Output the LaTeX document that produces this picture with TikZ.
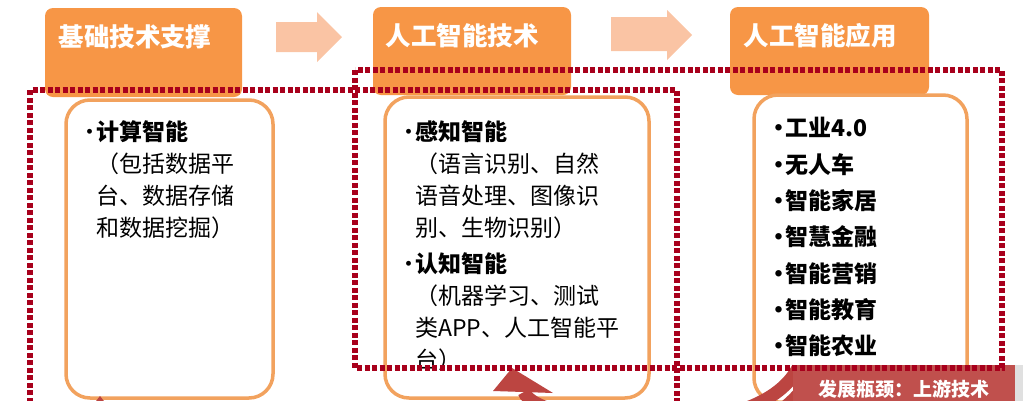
\documentclass[tikz,border=0pt]{standalone}
\usepackage{fontspec}
\setmainfont{Noto Sans CJK SC}
\usepackage{tikz}
\usetikzlibrary{arrows,positioning,shadows}
\definecolor{headorange}{HTML}{F79646}
\definecolor{flowpeach}{HTML}{FAC4A4}
\definecolor{boxline}{HTML}{F2A25E}
\definecolor{dotred}{HTML}{A8001C}
\definecolor{neckred}{HTML}{C0504D}
\definecolor{arrowred}{HTML}{BC4541}
\newcommand{\bul}{\llap{•\hspace{-5pt}}}

\begin{document}
\begin{tikzpicture}[
    x=1pt, y=-1pt,
    font=\fontsize{23}{32}\selectfont,
    head/.style={
		rectangle,
		rounded corners=8pt,
		fill=headorange,
		inner sep=0pt
	},
	headtext/.style={
		text=white,
		inner sep=0pt,
		font=\fontsize{25.5}{30}\selectfont\bfseries
	},
	item/.style={
		rectangle,
		rounded corners=24pt,
		draw=boxline,
		line width=3.5pt,
		fill=white,
		inner sep=0pt
	},
	itemtext/.style={
		align=left,
		inner sep=0pt
	},
	zone/.style={
		draw=dotred,
		line width=5.5pt,
		dash pattern=on 5pt off 2.5pt
	},
	flow/.style={
		fill=flowpeach
	},
	upstream/.style={
		draw=arrowred,
		line width=13pt
	},
	neck/.style={
		rectangle,
		fill=neckred,
		text=white,
		inner sep=0pt,
		font=\fontsize{19}{22}\selectfont\bfseries,
		drop shadow={shadow xshift=8pt, shadow yshift=0pt, fill=black!30, opacity=0.4}
	}
  ]
  \useasboundingbox (0,0) rectangle (1034,400);
  \clip (0,0) rectangle (1034,400);

    % the three stage headers
  \node [head, minimum width=197pt, minimum height=89pt] (hd1) at (143.5,52.5) {};
  \node [head, minimum width=198pt, minimum height=88pt] (hd2) at (472,51) {};
  \node [head, minimum width=199pt, minimum height=88pt] (hd3) at (829.5,51) {};
  \node [headtext] (hd1t) at (135,37) {基础技术支撑};
  \node [headtext] (hd2t) at (462,36) {人工智能技术};
  \node [headtext] (hd3t) at (820,36) {人工智能应用};

  \fill [flow] (276,22) -- (317,22) -- (317,12) -- (342,37) -- (317,62) -- (317,52) -- (276,52) -- cycle;
  \fill [flow] (611,17) -- (667,17) -- (667,10) -- (692,35) -- (667,60) -- (667,51) -- (611,51) -- cycle;

    % content boxes
  \node [item, minimum width=207pt, minimum height=298pt] (bx1) at (169.5,249) {};
  \node [item, minimum width=264pt, minimum height=301pt] (bx2) at (517,247.5) {};
  \node [item, minimum width=213pt, minimum height=307pt] (bx3) at (860.5,248.5) {};

  \node [itemtext, below right=22pt and 32pt of bx1.north west] (bx1t)
 {\bul\textbf{计算智能}\\
  （包括数据平\\
  台、数据存储\\
  和数据挖掘）};

  \node [itemtext, below right=25pt and 32pt of bx2.north west] (bx2t)
 {\bul\textbf{感知智能}\\
  （语言识别、自然\\
  语音处理、图像识\\
  别、生物识别）\\[4pt]
  \bul\textbf{认知智能}\\
  （机器学习、测试\\
  类APP、人工智能平\\
  台）};

  \node [itemtext, font=\fontsize{23}{36.3}\selectfont\bfseries, below right=24pt and 33pt of bx3.north west] (bx3t)
 {\bul 工业4.0\\
  \bul 无人车\\
  \bul 智能家居\\
  \bul 智慧金融\\
  \bul 智能营销\\
  \bul 智能教育\\
  \bul 智能农业};

    % bottleneck callout and its arrows
  \coordinate (tip2) at (524,392);
  \coordinate (tip1) at (100,418);
  \draw [upstream] (904,400) ++(-106,-32) .. controls (755,450) and (535,425) .. (tip2);
  \fill [arrowred] (512,368) -- (553,393) -- (493,391) -- cycle;
  \draw [upstream] (904,400) ++(-102,-10) .. controls (700,520) and (120,520) .. (tip1);
  \fill [arrowred] (100,396) -- (118,419) -- (82,419) -- cycle;

  \node [neck, minimum width=222pt, minimum height=48pt] (co) at (904,389) {发展瓶颈：上游技术};

    % dotted zones on top
  \draw [zone] (30,440) -- (30,90) -- (677,90) -- (677,440);
  \draw [zone] (355,70) rectangle (1002,368);

\end{tikzpicture}
\end{document}
